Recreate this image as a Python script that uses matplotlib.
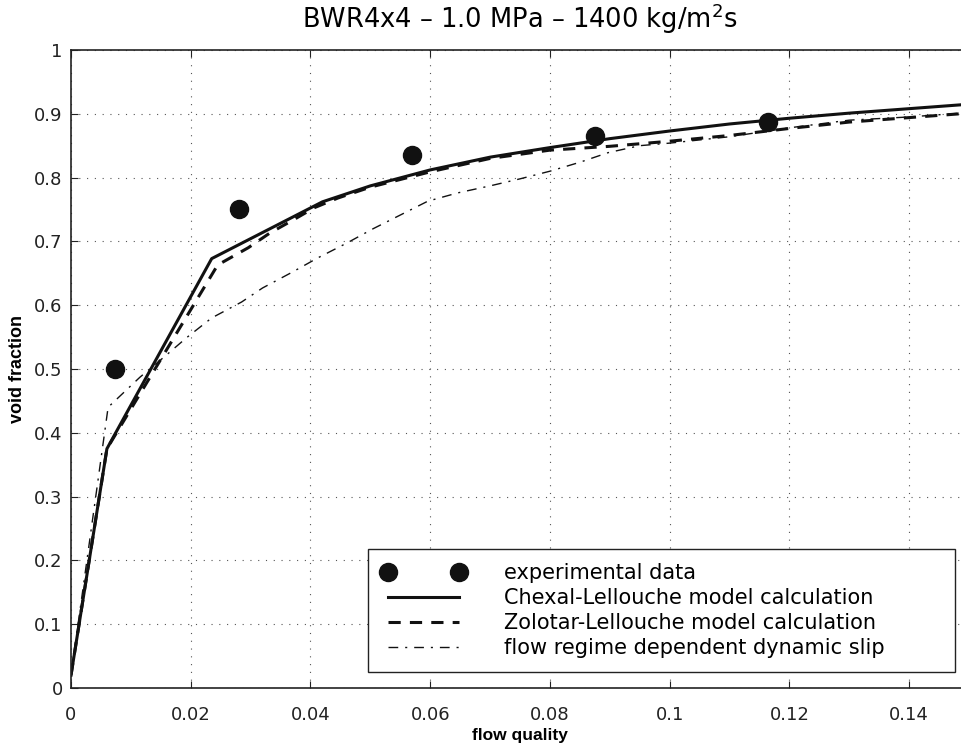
import matplotlib
matplotlib.use("Agg")
import matplotlib.pyplot as plt

plt.rcParams["font.family"] = ["DejaVu Sans"]
plt.rcParams["mathtext.default"] = "regular"

# experimental points
exp_x = [0.0073, 0.028, 0.057, 0.0876, 0.1165]
exp_y = [0.50, 0.75, 0.835, 0.865, 0.887]

# Chexal-Lellouche model
cl_x = [0, 0.006, 0.0235, 0.042, 0.05, 0.06, 0.07, 0.08, 0.09, 0.10, 0.11, 0.12, 0.13, 0.14, 0.15]
cl_y = [0.02, 0.375, 0.673, 0.762, 0.787, 0.812, 0.832, 0.847, 0.861, 0.873, 0.884, 0.893, 0.901, 0.908, 0.915]

# Zolotar-Lellouche model
zl_x = [0, 0.006, 0.0245, 0.0296, 0.0332, 0.037, 0.0407, 0.0446, 0.05, 0.06, 0.07, 0.08,
        0.09, 0.10, 0.11, 0.12, 0.13, 0.14, 0.15]
zl_y = [0.02, 0.375, 0.663, 0.69, 0.713, 0.733, 0.753, 0.768, 0.785, 0.809, 0.83, 0.843,
        0.849, 0.857, 0.866, 0.877, 0.887, 0.894, 0.901]

# flow regime dependent dynamic slip
ds_x = [0, 0.0062, 0.0115, 0.0157, 0.0193, 0.0235, 0.0285, 0.032, 0.037, 0.0412, 0.046,
        0.0505, 0.0596, 0.0646, 0.07, 0.075, 0.08, 0.085, 0.0897, 0.095, 0.10, 0.11, 0.12,
        0.13, 0.14, 0.15]
ds_y = [0.02, 0.44, 0.487, 0.52, 0.549, 0.58, 0.605, 0.627, 0.652, 0.674, 0.697,
        0.72, 0.763, 0.776, 0.787, 0.798, 0.81, 0.824, 0.839, 0.85, 0.854, 0.864, 0.878,
        0.89, 0.895, 0.902]

x_ticks = [0, 0.02, 0.04, 0.06, 0.08, 0.1, 0.12, 0.14]
x_labels = ["0", "0.02", "0.04", "0.06", "0.08", "0.1", "0.12", "0.14"]
y_ticks = [0, 0.1, 0.2, 0.3, 0.4, 0.5, 0.6, 0.7, 0.8, 0.9, 1]
y_labels = ["0", "0.1", "0.2", "0.3", "0.4", "0.5", "0.6", "0.7", "0.8", "0.9", "1"]

fig = plt.figure(figsize=(9.62, 7.48), dpi=100)
ax = fig.add_axes([0.0738, 0.0802, 0.9335, 0.853])

ink = "#111111"
ax.plot(exp_x, exp_y, linestyle="none", marker="o", markersize=13, color=ink,
        label="experimental data", zorder=5)
ax.plot(cl_x, cl_y, "-", color=ink, lw=2.2, label="Chexal-Lellouche model calculation")
ax.plot(zl_x, zl_y, "--", color=ink, lw=2.2, dashes=(4, 3),
        label="Zolotar-Lellouche model calculation")
ax.plot(ds_x, ds_y, "-.", color=ink, lw=1.0, dashes=(7, 5, 1.5, 5),
        label="flow regime dependent dynamic slip")

ax.set_xlim(0, 0.15)
ax.set_ylim(0, 1)
ax.set_xticks(x_ticks)
ax.set_xticklabels(x_labels)
ax.set_yticks(y_ticks)
ax.set_yticklabels(y_labels)
ax.tick_params(direction="in", top=True, right=True, length=5, labelsize=13,
               colors="#222222", pad=6)
ax.tick_params(axis="x", pad=13)
ax.grid(True, linestyle=(0, (1, 6)), color="#555555", lw=0.8)
for s in ax.spines.values():
    s.set_color("#222222")
    s.set_linewidth(1.2)

ax.set_title("BWR4x4 – 1.0 MPa – 1400 kg/m$^2$s", fontsize=18.5, pad=16)
ax.set_xlabel("flow quality", fontsize=12.5, fontweight="bold", family="Liberation Sans",
              labelpad=3)
ax.set_ylabel("void fraction", fontsize=13, fontweight="bold", family="Liberation Sans",
              labelpad=6)

leg = ax.legend(loc="lower left", bbox_to_anchor=(0.3307, 0.0251, 0.6537, 0.194),
                mode="expand", borderaxespad=0, numpoints=2,
                fontsize=15, handlelength=4.0, handletextpad=1.9, labelspacing=0.25,
                borderpad=0.65, fancybox=False, framealpha=1, edgecolor="#222222")
leg.get_frame().set_linewidth(1.0)

fig.savefig("out.png", dpi=100)
